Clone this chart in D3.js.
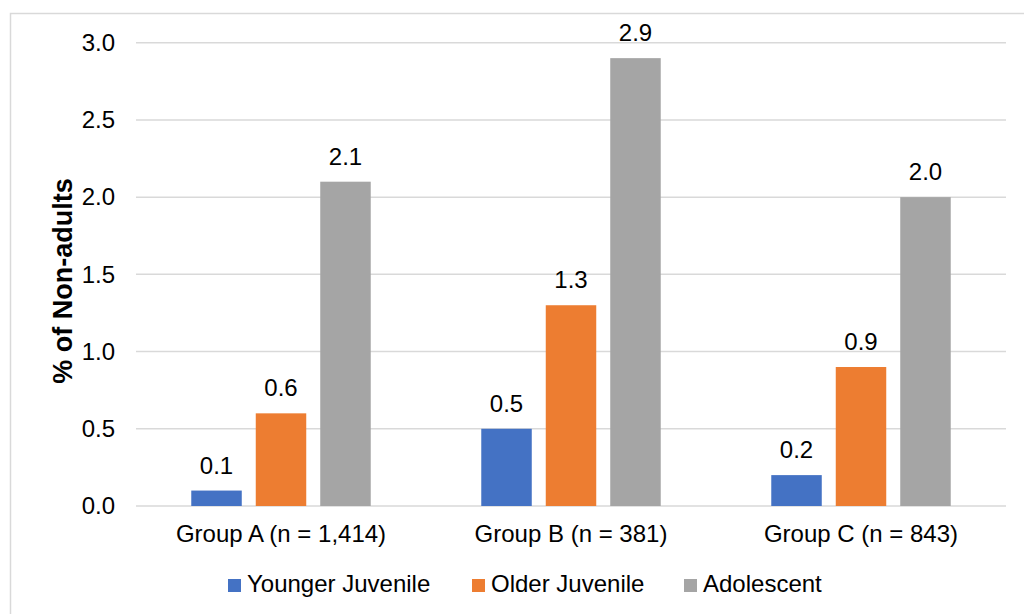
<!DOCTYPE html>
<html>
<head>
<meta charset="utf-8">
<script src="https://cdn.jsdelivr.net/npm/d3@7"></script>
<style>
 body { margin: 0; background: #fff; }
 svg { display: block; font-family: "Liberation Sans", Arial, sans-serif; }
</style>
</head>
<body>
<div id="chart"></div>
<script>
 //The groups along the x axis.
 var categories = ["Group A (n = 1,414)", "Group B (n = 381)", "Group C (n = 843)"];

 //The series, one value per group.
 var seriesNames = ["Younger Juvenile", "Older Juvenile", "Adolescent"];
 var youngerJuvenile = [0.1, 0.5, 0.2];
 var olderJuvenile = [0.6, 1.3, 0.9];
 var adolescent = [2.1, 2.9, 2.0];
 var seriesValues = [youngerJuvenile, olderJuvenile, adolescent];

 //Tick labels of the value axis.
 var yTicks = [0, 0.5, 1.0, 1.5, 2.0, 2.5, 3.0];

 var colors = ["#4472c4", "#ed7d31", "#a5a5a5"];

 var width = 1024, height = 614;
 var margin = {left: 136, right: 18, top: 42.7, bottom: 108};
 var fontFamily = "Liberation Sans, Arial, sans-serif";

 var svg = d3.select("#chart").append("svg").attr("width", width).attr("height", height);

 //Chart border.
 svg.append("rect").attr("x", 10.5).attr("y", 13.5).attr("width", 1030).attr("height", 620)
  .attr("fill", "none").attr("stroke", "#d9d9d9").attr("stroke-width", 1.5);

 var x0 = d3.scaleBand().domain(categories).range([margin.left, width - margin.right]);
 var x1 = d3.scaleBand().domain(seriesNames).range([0, x0.bandwidth()])
  .paddingInner(0.217).paddingOuter(0.857);
 var y = d3.scaleLinear().domain([0, 3]).range([height - margin.bottom, margin.top]);

 //Gridlines.
 svg.append("g").selectAll("line").data(yTicks).enter().append("line")
  .attr("x1", margin.left).attr("x2", width - margin.right)
  .attr("y1", function(d) { return y(d); }).attr("y2", function(d) { return y(d); })
  .attr("stroke", "#d9d9d9").attr("stroke-width", 1.5);

 //Y axis labels.
 var yAxis = svg.append("g").attr("transform", "translate(" + (margin.left - 21) + ",0)")
  .call(d3.axisLeft(y).tickValues(yTicks).tickFormat(d3.format(".1f")).tickSize(0).tickPadding(0));
 yAxis.select(".domain").remove();
 yAxis.attr("font-size", 24).attr("font-family", fontFamily);
 yAxis.selectAll("text").attr("fill", "#000");

 //X axis labels.
 var xAxis = svg.append("g").attr("transform", "translate(0," + y(0) + ")")
  .call(d3.axisBottom(x0).tickSize(0).tickPadding(18.5));
 xAxis.select(".domain").remove();
 xAxis.attr("font-size", 24).attr("font-family", fontFamily);
 xAxis.selectAll("text").attr("fill", "#000");

 //Bars.
 var groups = svg.append("g").selectAll("g").data(categories).enter().append("g")
  .attr("transform", function(d) { return "translate(" + x0(d) + ",0)"; });

 groups.selectAll("rect").data(function(d, gi)
 {
  return seriesNames.map(function(s, si) { return {series: s, si: si, value: seriesValues[si][gi]}; });
 }).enter().append("rect")
  .attr("x", function(d) { return x1(d.series); })
  .attr("y", function(d) { return y(d.value); })
  .attr("width", x1.bandwidth())
  .attr("height", function(d) { return y(0) - y(d.value); })
  .attr("fill", function(d) { return colors[d.si]; });

 //Value labels.
 groups.selectAll("text.val").data(function(d, gi)
 {
  return seriesNames.map(function(s, si) { return {series: s, value: seriesValues[si][gi]}; });
 }).enter().append("text").attr("class", "val")
  .attr("x", function(d) { return x1(d.series) + x1.bandwidth() / 2; })
  .attr("y", function(d) { return y(d.value) - 17; })
  .attr("text-anchor", "middle").attr("font-size", 24)
  .text(function(d) { return d.value.toFixed(1); });

 //Y axis title.
 svg.append("text").attr("transform", "translate(72,281) rotate(-90)")
  .attr("text-anchor", "middle").attr("font-size", 27).attr("font-weight", "bold")
  .text("% of Non-adults");

 //Legend.
 var legendX = [228, 472, 684];
 var legend = svg.append("g").selectAll("g").data(seriesNames).enter().append("g")
  .attr("transform", function(d, i) { return "translate(" + legendX[i] + ",579)"; });
 legend.append("rect").attr("width", 13).attr("height", 13).attr("fill", function(d, i) { return colors[i]; });
 legend.append("text").attr("x", 19).attr("y", 13).attr("font-size", 24).text(function(d) { return d; });
</script>
</body>
</html>
